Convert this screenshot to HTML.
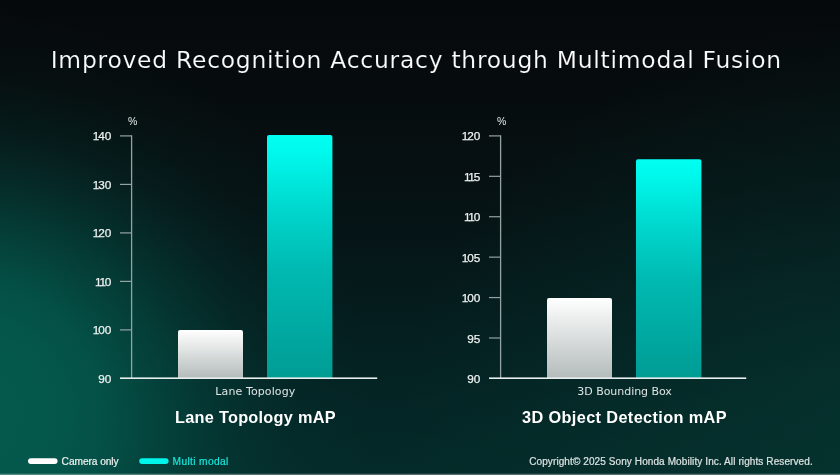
<!DOCTYPE html>
<html lang="en"><head><meta charset="utf-8"><title>Improved Recognition Accuracy through Multimodal Fusion</title>
<style>
html,body{margin:0;padding:0;background:#060b0c;}
body{width:840px;height:475px;overflow:hidden;}
svg{display:block;font-family:"Liberation Sans","DejaVu Sans",sans-serif;}
.tt{font-size:23.4px;fill:#fbfcfc;stroke:#070c0e;stroke-width:0.15px;font-family:"DejaVu Sans","Liberation Sans",sans-serif;}
.tk{font-size:11.8px;fill:#eef1f1;stroke:#eef1f1;stroke-width:0.25px;}
.pc{font-size:10.5px;fill:#e6eaea;}
.xl{font-size:11px;fill:#dfe5e5;font-family:"DejaVu Sans","Liberation Sans",sans-serif;}
.ct{font-size:16.3px;font-weight:bold;fill:#ffffff;}
.lg{font-size:10.2px;fill:#eef1f1;stroke:#eef1f1;stroke-width:0.2px;}
.lc{font-size:10.2px;fill:#19e6dc;stroke:#19e6dc;stroke-width:0.2px;}
.cp{font-size:10px;fill:#dde3e3;stroke:#dde3e3;stroke-width:0.2px;}
</style></head><body>
<svg width="840" height="475" viewBox="0 0 840 475">
<defs>
<linearGradient id="bg" x1="0" y1="0" x2="0" y2="1">
<stop offset="0" stop-color="#06090b"/>
<stop offset="0.2" stop-color="#060c0e"/>
<stop offset="0.42" stop-color="#061214"/>
<stop offset="0.63" stop-color="#051b1c"/>
<stop offset="0.85" stop-color="#042525"/>
<stop offset="1" stop-color="#042a29"/>
</linearGradient>
<radialGradient id="bg2" gradientUnits="userSpaceOnUse" cx="0" cy="0" r="1" gradientTransform="translate(-30 410) scale(400 400)">
<stop offset="0" stop-color="#04594d" stop-opacity="1"/>
<stop offset="0.2" stop-color="#04594d" stop-opacity="0.96"/>
<stop offset="0.325" stop-color="#04594d" stop-opacity="0.85"/>
<stop offset="0.45" stop-color="#04594d" stop-opacity="0.6"/>
<stop offset="0.575" stop-color="#04594d" stop-opacity="0.36"/>
<stop offset="0.7" stop-color="#04594d" stop-opacity="0.17"/>
<stop offset="0.825" stop-color="#04594d" stop-opacity="0.06"/>
<stop offset="1" stop-color="#04594d" stop-opacity="0"/>
</radialGradient>
<radialGradient id="bg3" gradientUnits="userSpaceOnUse" cx="0" cy="0" r="1" gradientTransform="translate(900 420) scale(500 400)">
<stop offset="0" stop-color="#063a33" stop-opacity="0.6"/>
<stop offset="0.5" stop-color="#063a33" stop-opacity="0.3"/>
<stop offset="1" stop-color="#063a33" stop-opacity="0"/>
</radialGradient>
<linearGradient id="gw" x1="0" y1="0" x2="0" y2="1">
<stop offset="0" stop-color="#ffffff"/><stop offset="1" stop-color="#b4bcbb"/>
</linearGradient>
<linearGradient id="gc0" gradientUnits="userSpaceOnUse" x1="0" y1="135" x2="0" y2="378">
<stop offset="0" stop-color="#00fff2"/><stop offset="0.08" stop-color="#00f8ec"/><stop offset="0.3" stop-color="#00d8ce"/><stop offset="0.55" stop-color="#00bab2"/><stop offset="1" stop-color="#009c94"/>
</linearGradient>
<linearGradient id="gc1" gradientUnits="userSpaceOnUse" x1="0" y1="159" x2="0" y2="378">
<stop offset="0" stop-color="#00fff2"/><stop offset="0.08" stop-color="#00f8ec"/><stop offset="0.3" stop-color="#00d8ce"/><stop offset="0.55" stop-color="#00bab2"/><stop offset="1" stop-color="#009c94"/>
</linearGradient>
</defs>
<rect width="840" height="475" fill="url(#bg)"/>
<rect width="840" height="475" fill="url(#bg2)"/>
<rect width="840" height="475" fill="url(#bg3)"/>
<text x="50.7" y="68" class="tt" textLength="730.5" lengthAdjust="spacing">Improved Recognition Accuracy through Multimodal Fusion</text>
<rect x="130.95" y="135.3" width="1.3" height="243" fill="#93a3a2"/>
<rect x="120.0" y="135.30" width="11.6" height="1.2" fill="#93a3a2"/>
<text x="111.3" y="140.00" text-anchor="end" class="tk" dx="0 -1.2 0">140</text>
<rect x="120.0" y="183.80" width="11.6" height="1.2" fill="#93a3a2"/>
<text x="111.3" y="188.60" text-anchor="end" class="tk" dx="0 -1.2 0">130</text>
<rect x="120.0" y="232.30" width="11.6" height="1.2" fill="#93a3a2"/>
<text x="111.3" y="237.20" text-anchor="end" class="tk" dx="0 -1.2 0">120</text>
<rect x="120.0" y="280.80" width="11.6" height="1.2" fill="#93a3a2"/>
<text x="111.3" y="285.80" text-anchor="end" class="tk" dx="0 -1.2 -1.2">110</text>
<rect x="120.0" y="329.30" width="11.6" height="1.2" fill="#93a3a2"/>
<text x="111.3" y="334.40" text-anchor="end" class="tk" dx="0 -1.2 0">100</text>
<text x="111.3" y="383.00" text-anchor="end" class="tk" dx="0 0">90</text>
<path d="M178.0 378V332a2 2 0 0 1 2 -2h61a2 2 0 0 1 2 2V378z" fill="url(#gw)"/>
<path d="M267.0 378V137a2 2 0 0 1 2 -2h61.4a2 2 0 0 1 2 2V378z" fill="url(#gc0)"/>
<rect x="120.0" y="377.4" width="257.2" height="1.6" fill="#e8eeee"/>
<text x="132.7" y="124.8" text-anchor="middle" class="pc">%</text>
<text x="255.3" y="395.3" text-anchor="middle" class="xl" textLength="80" lengthAdjust="spacing">Lane Topology</text>
<text x="255.3" y="423.3" text-anchor="middle" class="ct" textLength="160.5" lengthAdjust="spacing">Lane Topology mAP</text>
<rect x="499.95" y="135.3" width="1.3" height="243" fill="#93a3a2"/>
<rect x="489.0" y="135.30" width="11.6" height="1.2" fill="#93a3a2"/>
<text x="480.3" y="140.00" text-anchor="end" class="tk" dx="0 -1.2 0">120</text>
<rect x="489.0" y="175.72" width="11.6" height="1.2" fill="#93a3a2"/>
<text x="480.3" y="180.50" text-anchor="end" class="tk" dx="0 -1.2 -1.2">115</text>
<rect x="489.0" y="216.13" width="11.6" height="1.2" fill="#93a3a2"/>
<text x="480.3" y="221.00" text-anchor="end" class="tk" dx="0 -1.2 -1.2">110</text>
<rect x="489.0" y="256.55" width="11.6" height="1.2" fill="#93a3a2"/>
<text x="480.3" y="261.50" text-anchor="end" class="tk" dx="0 -1.2 0">105</text>
<rect x="489.0" y="296.97" width="11.6" height="1.2" fill="#93a3a2"/>
<text x="480.3" y="302.00" text-anchor="end" class="tk" dx="0 -1.2 0">100</text>
<rect x="489.0" y="337.38" width="11.6" height="1.2" fill="#93a3a2"/>
<text x="480.3" y="342.50" text-anchor="end" class="tk" dx="0 0">95</text>
<text x="480.3" y="383.00" text-anchor="end" class="tk" dx="0 0">90</text>
<path d="M547.0 378V300a2 2 0 0 1 2 -2h61a2 2 0 0 1 2 2V378z" fill="url(#gw)"/>
<path d="M636.0 378V161.2a2 2 0 0 1 2 -2h61.4a2 2 0 0 1 2 2V378z" fill="url(#gc1)"/>
<rect x="489.0" y="377.4" width="257.2" height="1.6" fill="#e8eeee"/>
<text x="501.7" y="124.8" text-anchor="middle" class="pc">%</text>
<text x="624.6" y="395.3" text-anchor="middle" class="xl" textLength="94.5" lengthAdjust="spacing">3D Bounding Box</text>
<text x="624.3" y="423.3" text-anchor="middle" class="ct" textLength="204.5" lengthAdjust="spacing">3D Object Detection mAP</text>
<rect x="28" y="458.2" width="29.6" height="5.8" rx="2.9" fill="#ffffff"/>
<text x="61.6" y="464.9" class="lg" textLength="57" lengthAdjust="spacing">Camera only</text>
<rect x="139.2" y="458.2" width="29.4" height="5.8" rx="2.9" fill="#00f5ea"/>
<text x="172.6" y="464.9" class="lc" textLength="55.6" lengthAdjust="spacing">Multi modal</text>
<text x="529.2" y="464.8" class="cp" textLength="283.5" lengthAdjust="spacing">Copyright© 2025 Sony Honda Mobility Inc. All rights Reserved.</text>
<rect x="0" y="473.7" width="840" height="1.3" fill="#ffffff" fill-opacity="0.32"/>
</svg>
</body></html>
